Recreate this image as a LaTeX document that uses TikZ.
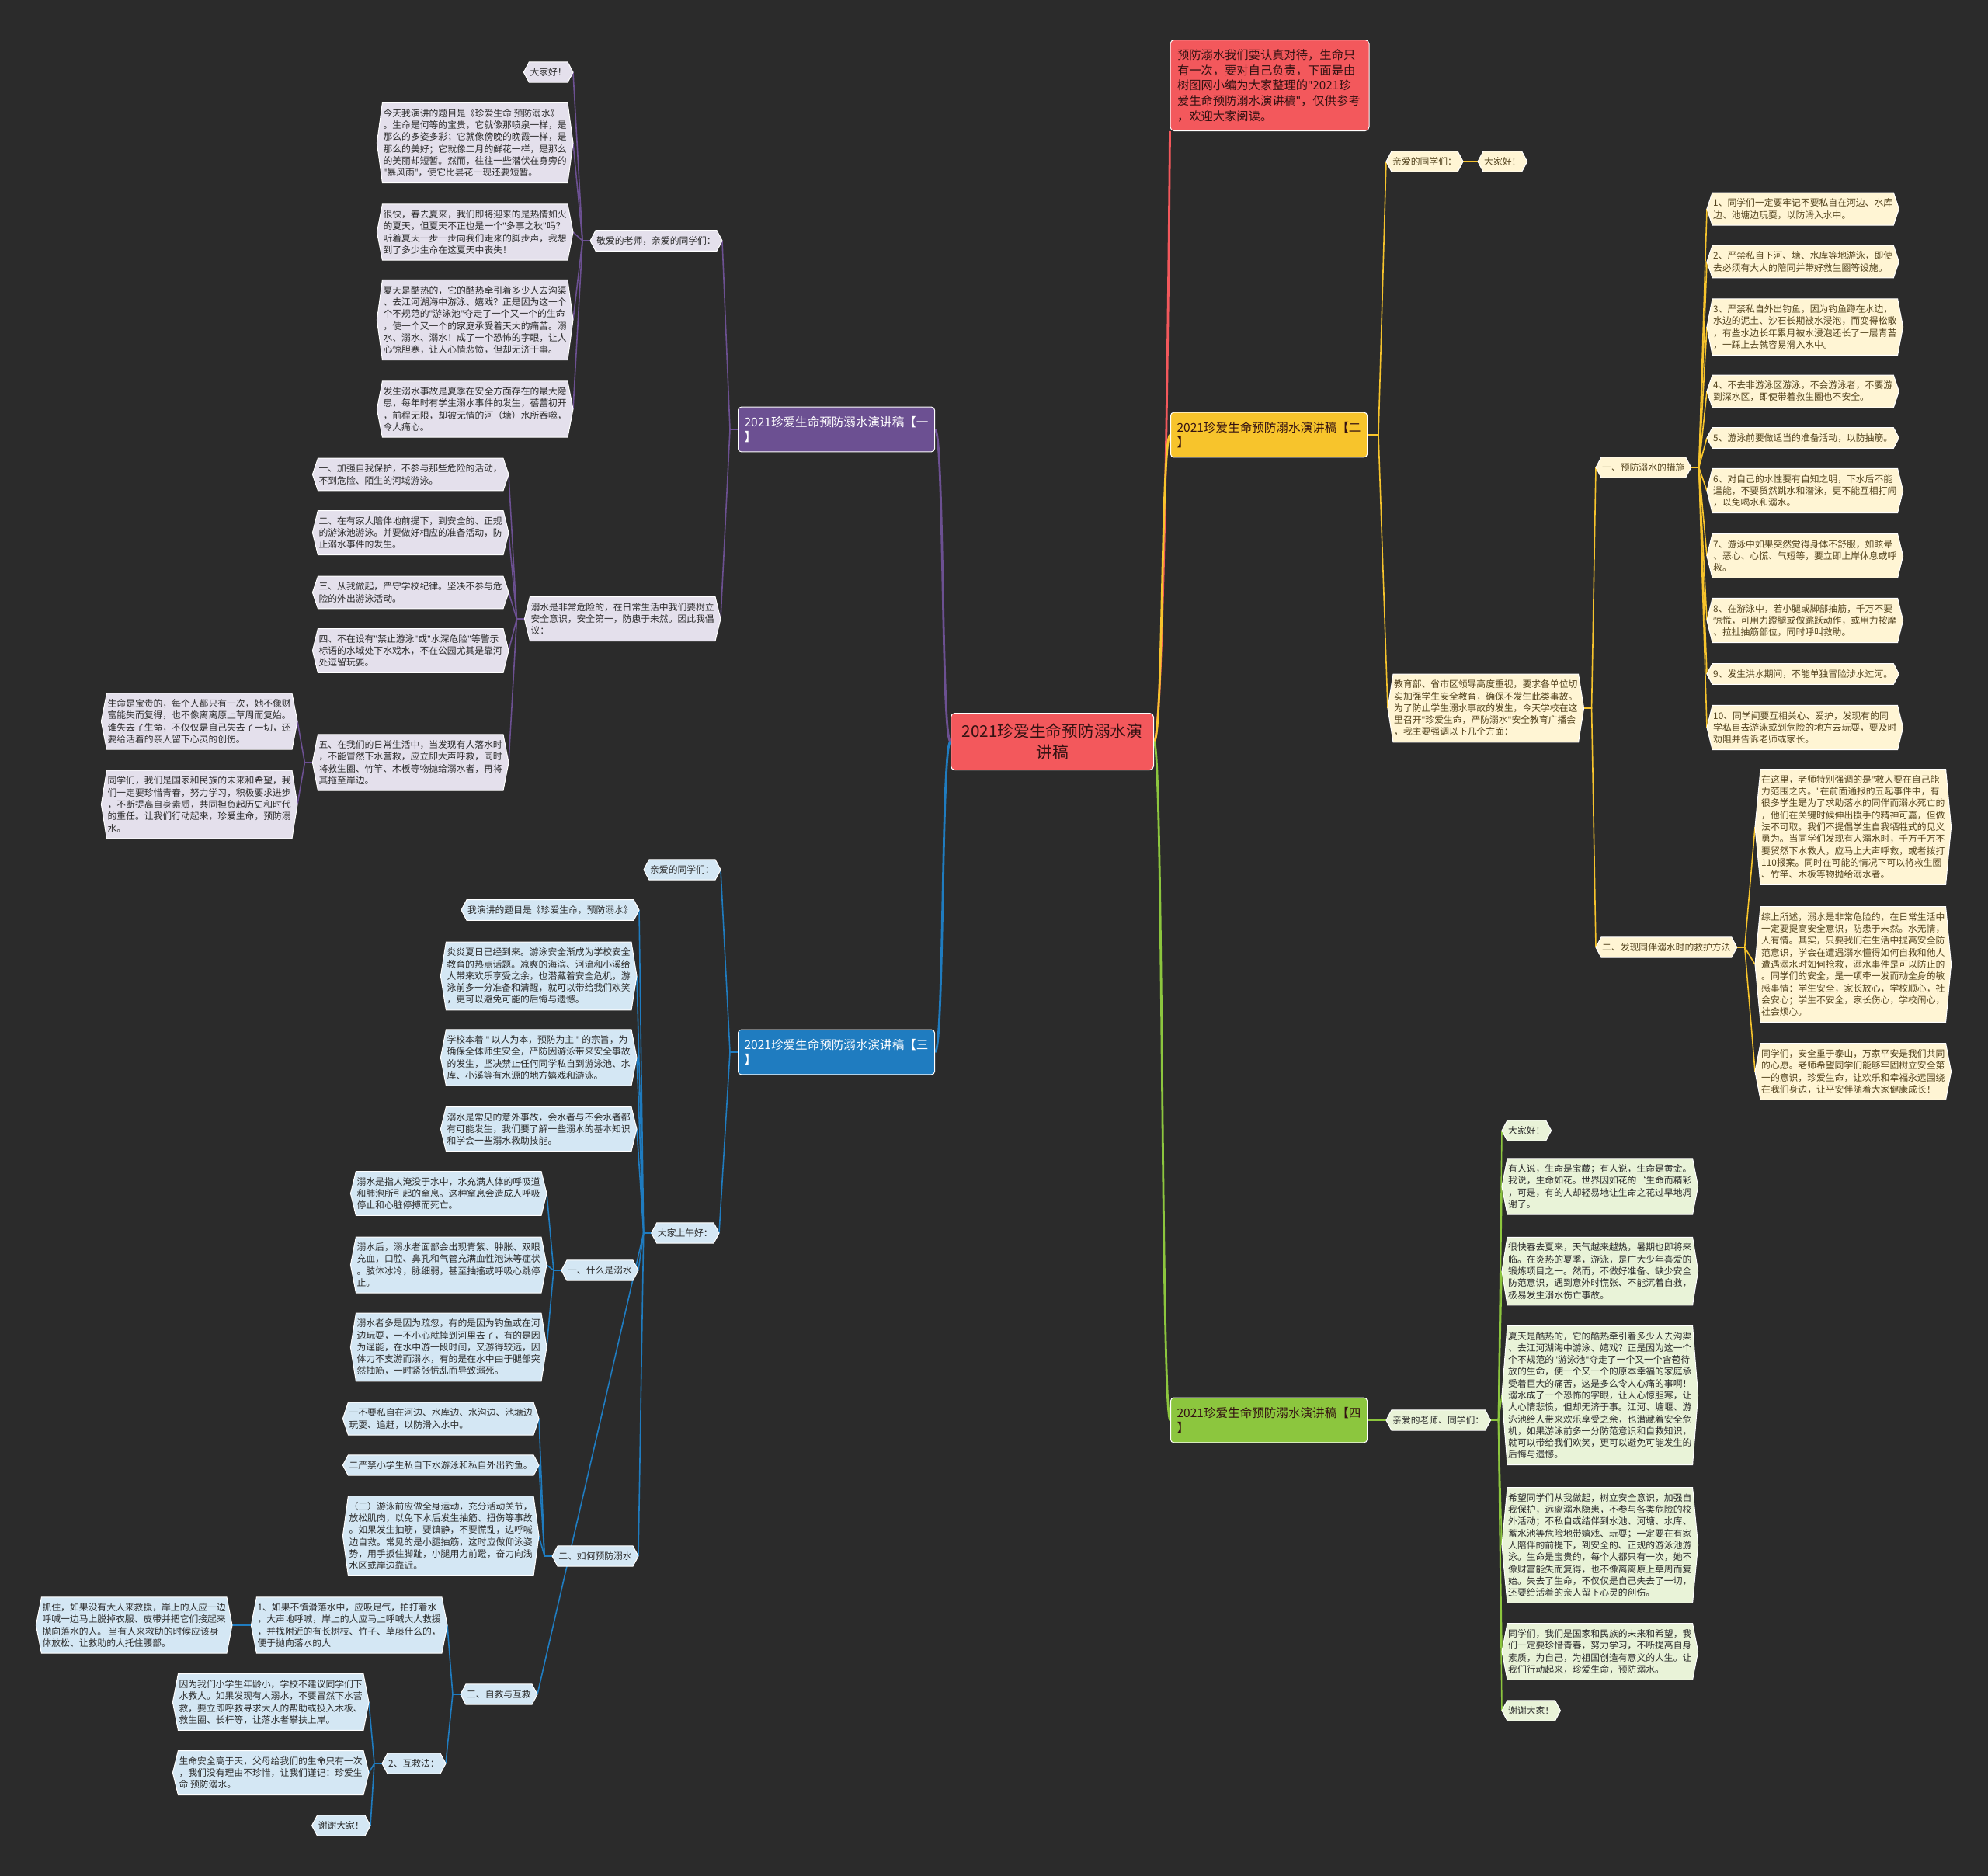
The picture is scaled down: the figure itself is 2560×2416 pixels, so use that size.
\documentclass[tikz,border=0pt]{standalone}
\usepackage{fontspec}
\setmainfont{Noto Sans CJK SC}
\newfontfamily\quotefont{Noto Sans}
\newcommand{\qm}{{\quotefont"}}
\usetikzlibrary{backgrounds}
\definecolor{MapBg}{RGB}{43,43,43}
\definecolor{MapRed}{RGB}{243,88,92}
\definecolor{MapPurple}{RGB}{108,80,146}
\definecolor{MapBlue}{RGB}{31,124,192}
\definecolor{MapYellow}{RGB}{247,196,44}
\definecolor{MapGreen}{RGB}{140,198,62}
\definecolor{LeafPurple}{RGB}{228,224,236}
\definecolor{LeafBlue}{RGB}{212,231,244}
\definecolor{LeafYellow}{RGB}{255,245,212}
\definecolor{LeafGreen}{RGB}{233,243,216}
\definecolor{MapText}{RGB}{44,44,44}
\definecolor{LeafBrown}{RGB}{84,68,30}
\definecolor{HubText}{RGB}{52,18,18}
\newcommand{\leafbg}[2]{%
  \filldraw[fill=#2,draw=white,line width=0.1mm]
    ([xshift=0.7mm]#1.north west) -- ([xshift=-0.7mm]#1.north east) -- (#1.east)
    -- ([xshift=-0.7mm]#1.south east) -- ([xshift=0.7mm]#1.south west) -- (#1.west) -- cycle;}

\begin{document}
\begin{tikzpicture}[x=0.1mm,y=-0.1mm,
    leaf/.style={align=left,inner xsep=0.75mm,inner ysep=0.7mm,text=MapText,
      font=\fontsize{3.36}{4.35}\selectfont},
    yleaf/.style={leaf,text=LeafBrown},
    branch/.style={draw=white,line width=0.1mm,rounded corners=0.4mm,align=left,
      text width=23.7mm,inner xsep=0.8mm,minimum height=5.4mm,
      font=\fontsize{4.43}{5.6}\selectfont},
    link/.style={line width=0.16mm},
    trunk/.style={line width=0.28mm}]
  \useasboundingbox (0,0) rectangle (2560,2416);

  \node[draw=white,line width=0.1mm,fill=MapRed,rounded corners=0.5mm,minimum width=26.1mm,
    minimum height=7.3mm,align=center,text=HubText,font=\fontsize{5.9}{7.4}\selectfont]
    (hub) at (1355,955) {2021珍爱生命预防溺水演\\讲稿};
  \node[draw=white,line width=0.1mm,fill=MapRed,rounded corners=0.5mm,align=left,
    text width=23.8mm,inner xsep=0.9mm,minimum height=11.7mm,text=HubText,
    font=\fontsize{4.35}{5.6}\selectfont] (intro) at (1635,110)
    {预防溺水我们要认真对待，生命只\\
     有一次，要对自己负责，下面是由\\
     树图网小编为大家整理的\qm{}2021珍\\
     爱生命预防溺水演讲稿\qm{}，仅供参考\\
     ，欢迎大家阅读。};

  \node[branch,fill=MapPurple,text=white] (b1) at (1077,553) {2021珍爱生命预防溺水演讲稿【一\\】};
  \node[branch,fill=MapBlue,text=white] (b3) at (1077,1355) {2021珍爱生命预防溺水演讲稿【三\\】};
  \node[branch,fill=MapYellow,text=HubText] (b2) at (1634,560) {2021珍爱生命预防溺水演讲稿【二\\】};
  \node[branch,fill=MapGreen,text=HubText] (b4) at (1634,1829) {2021珍爱生命预防溺水演讲稿【四\\】};

  \node[leaf,anchor=east] (p1) at (930,310) {敬爱的老师，亲爱的同学们：};
  \node[leaf,anchor=east] (p1a) at (738,93) {大家好！};
  \node[leaf,anchor=east] (p1b) at (738,184)
    {今天我演讲的题目是《珍爱生命 预防溺水》\\
     。生命是何等的宝贵，它就像那喷泉一样，是\\
     那么的多姿多彩；它就像傍晚的晚霞一样，是\\
     那么的美好；它就像二月的鲜花一样，是那么\\
     的美丽却短暂。然而，往往一些潜伏在身旁的\\
     \qm{}暴风雨\qm{}，使它比昙花一现还要短暂。};
  \node[leaf,anchor=east] (p1c) at (738,299)
    {很快，春去夏来，我们即将迎来的是热情如火\\
     的夏天，但夏天不正也是一个\qm{}多事之秋\qm{}吗？\\
     听着夏天一步一步向我们走来的脚步声，我想\\
     到了多少生命在这夏天中丧失！};
  \node[leaf,anchor=east] (p1d) at (738,412)
    {夏天是酷热的，它的酷热牵引着多少人去沟渠\\
     、去江河湖海中游泳、嬉戏？正是因为这一个\\
     个不规范的\qm{}游泳池\qm{}夺走了一个又一个的生命\\
     ，使一个又一个的家庭承受着天大的痛苦。溺\\
     水、溺水、溺水！成了一个恐怖的字眼，让人\\
     心惊胆寒，让人心情悲愤，但却无济于事。};
  \node[leaf,anchor=east] (p1e) at (738,527)
    {发生溺水事故是夏季在安全方面存在的最大隐\\
     患，每年时有学生溺水事件的发生，蓓蕾初开\\
     ，前程无限，却被无情的河（塘）水所吞噬，\\
     令人痛心。};
  \node[leaf,anchor=east] (p2) at (928,797)
    {溺水是非常危险的，在日常生活中我们要树立\\
     安全意识，安全第一，防患于未然。因此我倡\\
     议：};
  \node[leaf,anchor=east] (p2a) at (655,611)
    {一、加强自我保护，不参与那些危险的活动，\\
     不到危险、陌生的河域游泳。};
  \node[leaf,anchor=east] (p2b) at (655,686)
    {二、在有家人陪伴地前提下，到安全的、正规\\
     的游泳池游泳。并要做好相应的准备活动，防\\
     止溺水事件的发生。};
  \node[leaf,anchor=east] (p2c) at (655,763)
    {三、从我做起，严守学校纪律。坚决不参与危\\
     险的外出游泳活动。};
  \node[leaf,anchor=east] (p2d) at (655,838)
    {四、不在设有\qm{}禁止游泳\qm{}或\qm{}水深危险\qm{}等警示\\
     标语的水域处下水戏水，不在公园尤其是靠河\\
     处逗留玩耍。};
  \node[leaf,anchor=east] (p2e) at (655,982)
    {五、在我们的日常生活中，当发现有人落水时\\
     ，不能冒然下水营救，应立即大声呼救，同时\\
     将救生圈、竹竿、木板等物抛给溺水者，再将\\
     其拖至岸边。};
  \node[leaf,anchor=east] (p2e1) at (383,929)
    {生命是宝贵的，每个人都只有一次，她不像财\\
     富能失而复得，也不像离离原上草周而复始。\\
     谁失去了生命，不仅仅是自己失去了一切，还\\
     要给活着的亲人留下心灵的创伤。};
  \node[leaf,anchor=east] (p2e2) at (383,1036)
    {同学们，我们是国家和民族的未来和希望，我\\
     们一定要珍惜青春，努力学习，积极要求进步\\
     ，不断提高自身素质，共同担负起历史和时代\\
     的重任。让我们行动起来，珍爱生命，预防溺\\
     水。};

  \node[leaf,anchor=east] (bl1) at (928,1120) {亲爱的同学们：};
  \node[leaf,anchor=east] (bu) at (926,1588) {大家上午好：};
  \node[leaf,anchor=east] (ba) at (823,1172) {我演讲的题目是《珍爱生命，预防溺水》};
  \node[leaf,anchor=east] (bb) at (820,1257)
    {炎炎夏日已经到来。游泳安全渐成为学校安全\\
     教育的热点话题。凉爽的海滨、河流和小溪给\\
     人带来欢乐享受之余，也潜藏着安全危机，游\\
     泳前多一分准备和清醒，就可以带给我们欢笑\\
     ，更可以避免可能的后悔与遗憾。};
  \node[leaf,anchor=east] (bc) at (820,1362)
    {学校本着 \qm{} 以人为本，预防为主 \qm{} 的宗旨，为\\
     确保全体师生安全，严防因游泳带来安全事故\\
     的发生，坚决禁止任何同学私自到游泳池、水\\
     库、小溪等有水源的地方嬉戏和游泳。};
  \node[leaf,anchor=east] (bd) at (820,1454)
    {溺水是常见的意外事故，会水者与不会水者都\\
     有可能发生，我们要了解一些溺水的基本知识\\
     和学会一些溺水救助技能。};
  \node[leaf,anchor=east] (bw) at (822,1636) {一、什么是溺水};
  \node[leaf,anchor=east] (w1) at (704,1537)
    {溺水是指人淹没于水中，水充满人体的呼吸道\\
     和肺泡所引起的窒息。这种窒息会造成人呼吸\\
     停止和心脏停搏而死亡。};
  \node[leaf,anchor=east] (w2) at (704,1629)
    {溺水后，溺水者面部会出现青紫、肿胀、双眼\\
     充血，口腔、鼻孔和气管充满血性泡沫等症状\\
     。肢体冰冷，脉细弱，甚至抽搐或呼吸心跳停\\
     止。};
  \node[leaf,anchor=east] (w3) at (704,1735)
    {溺水者多是因为疏忽，有的是因为钓鱼或在河\\
     边玩耍，一不小心就掉到河里去了，有的是因\\
     为逞能，在水中游一段时间，又游得较远，因\\
     体力不支游而溺水，有的是在水中由于腿部突\\
     然抽筋，一时紧张慌乱而导致溺死。};
  \node[leaf,anchor=east] (bh) at (822,2004) {二、如何预防溺水};
  \node[leaf,anchor=east] (h1) at (694,1827)
    {一不要私自在河边、水库边、水沟边、池塘边\\
     玩耍、追赶，以防滑入水中。};
  \node[leaf,anchor=east] (h2) at (694,1887) {二严禁小学生私自下水游泳和私自外出钓鱼。};
  \node[leaf,anchor=east] (h3) at (694,1978)
    {（三）游泳前应做全身运动，充分活动关节，\\
     放松肌肉，以免下水后发生抽筋、扭伤等事故\\
     。如果发生抽筋，要镇静，不要慌乱，边呼喊\\
     边自救。常见的是小腿抽筋，这时应做仰泳姿\\
     势，用手扳住脚趾，小腿用力前蹬，奋力向浅\\
     水区或岸边靠近。};
  \node[leaf,anchor=east] (bs) at (692,2182) {三、自救与互救};
  \node[leaf,anchor=east] (s1) at (576,2093)
    {1、如果不慎滑落水中，应吸足气，拍打着水\\
     ，大声地呼喊，岸上的人应马上呼喊大人救援\\
     ，并找附近的有长树枝、竹子、草藤什么的，\\
     便于抛向落水的人};
  \node[leaf,anchor=east] (s1a) at (299,2093)
    {抓住，如果没有大人来救援，岸上的人应一边\\
     呼喊一边马上脱掉衣服、皮带并把它们接起来\\
     抛向落水的人。 当有人来救助的时候应该身\\
     体放松、让救助的人托住腰部。};
  \node[leaf,anchor=east] (s2) at (574,2271) {2、互救法：};
  \node[leaf,anchor=east] (s2a) at (475,2192)
    {因为我们小学生年龄小，学校不建议同学们下\\
     水救人。如果发现有人溺水，不要冒然下水营\\
     救，要立即呼救寻求大人的帮助或投入木板、\\
     救生圈、长杆等，让落水者攀扶上岸。};
  \node[leaf,anchor=east] (s2b) at (475,2283)
    {生命安全高于天，父母给我们的生命只有一次\\
     ，我们没有理由不珍惜，让我们谨记：珍爱生\\
     命 预防溺水。};
  \node[leaf,anchor=east] (s2c) at (477,2351) {谢谢大家！};

  \node[yleaf,anchor=west] (y1) at (1785,208) {亲爱的同学们：};
  \node[yleaf,anchor=west] (y1a) at (1903,208) {大家好！};
  \node[yleaf,anchor=west] (y2) at (1787,912)
    {教育部、省市区领导高度重视，要求各单位切\\
     实加强学生安全教育，确保不发生此类事故。\\
     为了防止学生溺水事故的发生，今天学校在这\\
     里召开\qm{}珍爱生命，严防溺水\qm{}安全教育广播会\\
     ，我主要强调以下几个方面：};
  \node[yleaf,anchor=west] (ym) at (2055,602) {一、预防溺水的措施};
  \node[yleaf,anchor=west] (m1) at (2198,269)
    {1、同学们一定要牢记不要私自在河边、水库\\
     边、池塘边玩耍，以防滑入水中。};
  \node[yleaf,anchor=west] (m2) at (2198,337)
    {2、严禁私自下河、塘、水库等地游泳，即使\\
     去必须有大人的陪同并带好救生圈等设施。};
  \node[yleaf,anchor=west] (m3) at (2198,421)
    {3、严禁私自外出钓鱼，因为钓鱼蹲在水边，\\
     水边的泥土、沙石长期被水浸泡，而变得松散\\
     ，有些水边长年累月被水浸泡还长了一层青苔\\
     ，一踩上去就容易滑入水中。};
  \node[yleaf,anchor=west] (m4) at (2198,504)
    {4、不去非游泳区游泳，不会游泳者，不要游\\
     到深水区，即使带着救生圈也不安全。};
  \node[yleaf,anchor=west] (m5) at (2198,564) {5、游泳前要做适当的准备活动，以防抽筋。};
  \node[yleaf,anchor=west] (m6) at (2198,632)
    {6、对自己的水性要有自知之明，下水后不能\\
     逞能，不要贸然跳水和潜泳，更不能互相打闹\\
     ，以免喝水和溺水。};
  \node[yleaf,anchor=west] (m7) at (2198,716)
    {7、游泳中如果突然觉得身体不舒服，如眩晕\\
     、恶心、心慌、气短等，要立即上岸休息或呼\\
     救。};
  \node[yleaf,anchor=west] (m8) at (2198,799)
    {8、在游泳中，若小腿或脚部抽筋，千万不要\\
     惊慌，可用力蹬腿或做跳跃动作，或用力按摩\\
     、拉扯抽筋部位，同时呼叫救助。};
  \node[yleaf,anchor=west] (m9) at (2198,868) {9、发生洪水期间，不能单独冒险涉水过河。};
  \node[yleaf,anchor=west] (m10) at (2198,937)
    {10、同学间要互相关心、爱护，发现有的同\\
     学私自去游泳或到危险的地方去玩耍，要及时\\
     劝阻并告诉老师或家长。};
  \node[yleaf,anchor=west] (yr) at (2055,1220) {二、发现同伴溺水时的救护方法};
  \node[yleaf,anchor=west] (r1) at (2260,1065)
    {在这里，老师特别强调的是\qm{}救人要在自己能\\
     力范围之内。\qm{}在前面通报的五起事件中，有\\
     很多学生是为了求助落水的同伴而溺水死亡的\\
     ，他们在关键时候伸出援手的精神可嘉，但做\\
     法不可取。我们不提倡学生自我牺牲式的见义\\
     勇为。当同学们发现有人溺水时，千万千万不\\
     要贸然下水救人，应马上大声呼救，或者拨打\\
     110报案。同时在可能的情况下可以将救生圈\\
     、竹竿、木板等物抛给溺水者。};
  \node[yleaf,anchor=west] (r2) at (2260,1242)
    {综上所述，溺水是非常危险的，在日常生活中\\
     一定要提高安全意识，防患于未然。水无情，\\
     人有情。其实，只要我们在生活中提高安全防\\
     范意识，学会在遭遇溺水懂得如何自救和他人\\
     遭遇溺水时如何抢救，溺水事件是可以防止的\\
     。同学们的安全，是一项牵一发而动全身的敏\\
     感事情：学生安全，家长放心，学校顺心，社\\
     会安心；学生不安全，家长伤心，学校闹心，\\
     社会烦心。};
  \node[yleaf,anchor=west] (r3) at (2260,1380)
    {同学们，安全重于泰山，万家平安是我们共同\\
     的心愿。老师希望同学们能够牢固树立安全第\\
     一的意识，珍爱生命，让欢乐和幸福永远围绕\\
     在我们身边，让平安伴随着大家健康成长！};

  \node[leaf,anchor=west] (g) at (1785,1829) {亲爱的老师、同学们：};
  \node[leaf,anchor=west] (ga) at (1934,1456) {大家好！};
  \node[leaf,anchor=west] (gb) at (1934,1528)
    {有人说，生命是宝藏；有人说，生命是黄金。\\
     我说，生命如花。世界因如花的`生命而精彩\\
     ，可是，有的人却轻易地让生命之花过早地凋\\
     谢了。};
  \node[leaf,anchor=west] (gc) at (1934,1637)
    {很快春去夏来，天气越来越热，暑期也即将来\\
     临。在炎热的夏季，游泳，是广大少年喜爱的\\
     锻炼项目之一。然而，不做好准备、缺少安全\\
     防范意识，遇到意外时慌张、不能沉着自救，\\
     极易发生溺水伤亡事故。};
  \node[leaf,anchor=west] (gd) at (1934,1797)
    {夏天是酷热的，它的酷热牵引着多少人去沟渠\\
     、去江河湖海中游泳、嬉戏？正是因为这一个\\
     个不规范的\qm{}游泳池\qm{}夺走了一个又一个含苞待\\
     放的生命，使一个又一个的原本幸福的家庭承\\
     受着巨大的痛苦，这是多么令人心痛的事啊！\\
     溺水成了一个恐怖的字眼，让人心惊胆寒，让\\
     人心情悲愤，但却无济于事。江河、塘堰、游\\
     泳池给人带来欢乐享受之余，也潜藏着安全危\\
     机，如果游泳前多一分防范意识和自救知识，\\
     就可以带给我们欢笑，更可以避免可能发生的\\
     后悔与遗憾。};
  \node[leaf,anchor=west] (ge) at (1934,1990)
    {希望同学们从我做起，树立安全意识，加强自\\
     我保护，远离溺水隐患，不参与各类危险的校\\
     外活动；不私自或结伴到水池、河塘、水库、\\
     蓄水池等危险地带嬉戏、玩耍；一定要在有家\\
     人陪伴的前提下，到安全的、正规的游泳池游\\
     泳。生命是宝贵的，每个人都只有一次，她不\\
     像财富能失而复得，也不像离离原上草周而复\\
     始。失去了生命，不仅仅是自己失去了一切，\\
     还要给活着的亲人留下心灵的创伤。};
  \node[leaf,anchor=west] (gf) at (1934,2127)
    {同学们，我们是国家和民族的未来和希望，我\\
     们一定要珍惜青春，努力学习，不断提高自身\\
     素质，为自己，为祖国创造有意义的人生。让\\
     我们行动起来，珍爱生命，预防溺水。};
  \node[leaf,anchor=west] (gg) at (1934,2203) {谢谢大家！};

  \begin{scope}[on background layer]
    \fill[MapBg] (0,0) rectangle (2560,2416);
    \draw[trunk,MapRed] (hub.east) .. controls +(12,0) and +(-2,250) .. (intro.south west);
    \draw[trunk,MapYellow] (hub.east) .. controls +(12,0) and +(-12,0) .. (b2.west);
    \draw[trunk,MapGreen] (hub.east) .. controls +(12,0) and +(-12,0) .. (b4.west);
    \draw[trunk,MapPurple] (hub.west) .. controls +(-12,0) and +(12,0) .. (b1.east);
    \draw[trunk,MapBlue] (hub.west) .. controls +(-12,0) and +(12,0) .. (b3.east);

    \foreach \c in {p1,p2} \draw[link,MapPurple] (b1.west) -- ++(-10,0) -- (\c.east);
    \foreach \c in {p1a,p1b,p1c,p1d,p1e} \draw[link,MapPurple] (p1.west) -- ++(-10,0) -- (\c.east);
    \foreach \c in {p2a,p2b,p2c,p2d,p2e} \draw[link,MapPurple] (p2.west) -- ++(-10,0) -- (\c.east);
    \foreach \c in {p2e1,p2e2} \draw[link,MapPurple] (p2e.west) -- ++(-10,0) -- (\c.east);

    \foreach \c in {bl1,bu} \draw[link,MapBlue] (b3.west) -- ++(-10,0) -- (\c.east);
    \foreach \c in {ba,bb,bc,bd,bw,bh,bs} \draw[link,MapBlue] (bu.west) -- ++(-10,0) -- (\c.east);
    \foreach \c in {w1,w2,w3} \draw[link,MapBlue] (bw.west) -- ++(-10,0) -- (\c.east);
    \foreach \c in {h1,h2,h3} \draw[link,MapBlue] (bh.west) -- ++(-10,0) -- (\c.east);
    \foreach \c in {s1,s2} \draw[link,MapBlue] (bs.west) -- ++(-10,0) -- (\c.east);
    \draw[link,MapBlue] (s1.west) -- (s1a.east);
    \foreach \c in {s2a,s2b,s2c} \draw[link,MapBlue] (s2.west) -- ++(-10,0) -- (\c.east);

    \foreach \c in {y1,y2} \draw[link,MapYellow] (b2.east) -- ++(14,0) -- (\c.west);
    \draw[link,MapYellow] (y1.east) -- (y1a.west);
    \foreach \c in {ym,yr} \draw[link,MapYellow] (y2.east) -- ++(10,0) -- (\c.west);
    \foreach \c in {m1,m2,m3,m4,m5,m6,m7,m8,m9,m10} \draw[link,MapYellow] (ym.east) -- ++(10,0) -- (\c.west);
    \foreach \c in {r1,r2,r3} \draw[link,MapYellow] (yr.east) -- ++(10,0) -- (\c.west);

    \draw[link,MapGreen] (b4.east) -- (g.west);
    \foreach \c in {ga,gb,gc,gd,ge,gf,gg} \draw[link,MapGreen] (g.east) -- ++(10,0) -- (\c.west);

    \foreach \n in {p1,p1a,p1b,p1c,p1d,p1e,p2,p2a,p2b,p2c,p2d,p2e,p2e1,p2e2} {\leafbg{\n}{LeafPurple}}
    \foreach \n in {bl1,bu,ba,bb,bc,bd,bw,w1,w2,w3,bh,h1,h2,h3,bs,s1,s1a,s2,s2a,s2b,s2c} {\leafbg{\n}{LeafBlue}}
    \foreach \n in {y1,y1a,y2,ym,m1,m2,m3,m4,m5,m6,m7,m8,m9,m10,yr,r1,r2,r3} {\leafbg{\n}{LeafYellow}}
    \foreach \n in {g,ga,gb,gc,gd,ge,gf,gg} {\leafbg{\n}{LeafGreen}}
  \end{scope}
\end{tikzpicture}
\end{document}
